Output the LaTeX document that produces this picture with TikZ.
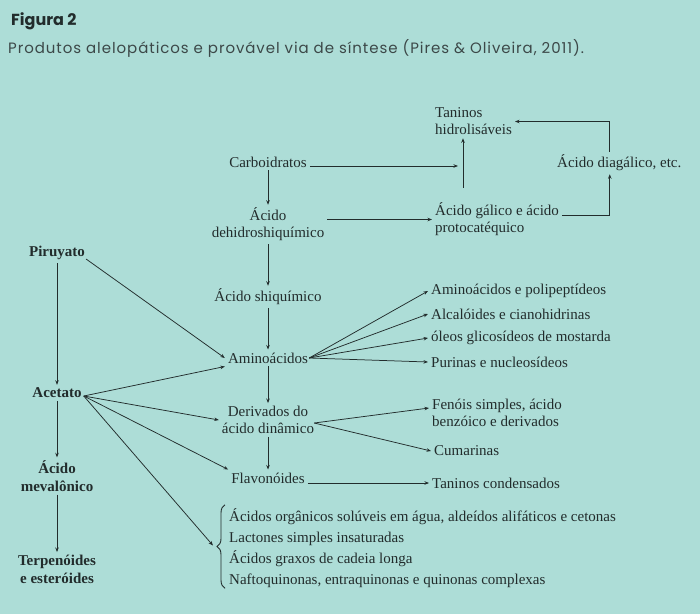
\documentclass[tikz,border=0pt]{standalone}
\usepackage{fontspec}
\setmainfont{Liberation Serif}
\newfontfamily\titlefont{Poppins}
\newfontfamily\subfont[LetterSpace=6.2]{Poppins}
\usetikzlibrary{arrows.meta,calc,decorations.pathreplacing}
\definecolor{bg}{RGB}{173,221,215}
\definecolor{ink}{RGB}{34,44,44}
\definecolor{ink2}{RGB}{60,72,72}
\begin{document}
\begin{tikzpicture}[x=1pt,y=-1pt,
  lbl/.style={inner sep=3pt,text=ink,font=\fontsize{15}{17}\selectfont,align=center},
  lbll/.style={lbl,align=left,anchor=west},
  bld/.style={lbl,font=\bfseries\fontsize{15}{18}\selectfont},
  arr/.style={draw=ink,line width=0.75pt,-{Stealth[length=4.5pt,width=3.5pt]}},
  ln/.style={draw=ink,line width=0.9pt}]
\fill[bg] (0,0) rectangle (700,614);
\useasboundingbox (0,0) rectangle (700,614);

\node[anchor=west,inner sep=0,text=ink,font=\titlefont\bfseries\fontsize{16}{18}\selectfont] (fig) at (11,21) {Figura 2};
\node[anchor=west,inner sep=0,text=ink2,font=\subfont\fontsize{15}{17}\selectfont] (sub) at (8,48) {Produtos alelopáticos e provável via de síntese (Pires \& Oliveira, 2011).};

\node[lbll] (tanh) at (432,121.5) {Taninos\\hidrolisáveis};
\node[lbl] (carb) at (268,162) {Carboidratos};
\node[lbll] (gal) at (432,219.5) {Ácido gálico e ácido\\protocatéquico};
\node[lbll] (diag) at (554,163) {Ácido diagálico, etc.};
\node[lbl] (dehi) at (268,224.5) {Ácido\\dehidroshiquímico};
\node[lbl] (shiq) at (268,297) {Ácido shiquímico};
\node[lbl] (amino) at (268,358) {Aminoácidos};
\node[bld] (piru) at (57,253) {Piruyato};
\node[bld] (acet) at (57,393) {Acetato};
\node[bld] (mev) at (57,476) {Ácido\\mevalônico};
\node[bld] (terp) at (57,569.5) {Terpenóides\\e esteróides};
\node[lbl] (deriv) at (268,420) {Derivados do\\ácido dinâmico};
\node[lbl] (flav) at (268,478) {Flavonóides};
\node[lbll] (tcond) at (429,483) {Taninos condensados};
\node[lbll] (fen) at (429,413) {Fenóis simples, ácido\\benzóico e derivados};
\node[lbll] (cum) at (431,451) {Cumarinas};
\node[lbll] (a1) at (428,291) {Aminoácidos e polipeptídeos};
\node[lbll] (a2) at (428,314) {Alcalóides e cianohidrinas};
\node[lbll] (a3) at (428,338) {óleos glicosídeos de mostarda};
\node[lbll] (a4) at (428,362) {Purinas e nucleosídeos};
\node[lbll,inner sep=0,font=\fontsize{15}{21}\selectfont] (list) at (229,548.5)
  {Ácidos orgânicos solúveis em água, aldeídos alifáticos e cetonas\\
   Lactones simples insaturadas\\
   Ácidos graxos de cadeia longa\\
   Naftoquinonas, entraquinonas e quinonas complexas};

% vertical chain
\draw[arr] (carb) -- (dehi);
\draw[arr] (dehi) -- (shiq);
\draw[arr] (shiq) -- (amino);
\draw[arr] (amino) -- (deriv);
\draw[arr] (deriv) -- (flav);
\draw[arr] (piru) -- (acet);
\draw[arr] (acet) -- (mev);
\draw[arr] (mev) -- (terp);

% top right
\coordinate (vj) at (463,166);
\draw[arr] (carb.east |- vj) -- ([xshift=-5pt]vj);
\draw[arr] ($(gal.north -| vj)+(0,-12)$) -- (tanh.south -| vj);
\draw[arr] ($(gal.east)+(0,-4)$) -| ($(diag.south)+(-9.5,0)$);
\draw[arr] ($(diag.north)+(-9.5,0)$) |- (tanh.east);
\draw[arr] (dehi.east |- gal.west) -- (gal.west);

% from Piruyato / Acetato
\draw[arr] ($(piru.south east)+(-2,-4)$) -- (amino.west);
\coordinate (ao) at ($(acet.east)+(-1,3)$);
\draw[arr] (ao) -- (amino.south west);
\draw[arr] (ao) -- (deriv.west);
\draw[arr] (ao) -- (flav.north west);
\coordinate (btip) at ($(list.west)+(-16,-3)$);
\draw[arr] (ao) -- (btip);

% brace
\draw[ln,decorate,decoration={brace,amplitude=8pt}] ($(list.south west)+(-4,0)$) -- ($(list.north west)+(-4,-4)$);

% aminoacid fan
\coordinate (am) at ($(amino.east)+(-2,0)$);
\draw[arr] (am) -- (a1.west);
\draw[arr] (am) -- (a2.west);
\draw[arr] (am) -- (a3.west);
\draw[arr] (am) -- (a4.west);

% derivados fan
\coordinate (dv) at ($(deriv.east)+(-3,3)$);
\draw[arr] (dv) -- ($(fen.west)+(0,-5)$);
\draw[arr] (dv) -- (cum.west);
\draw[arr] (flav.east |- tcond.west) -- (tcond.west);
\end{tikzpicture}
\end{document}
